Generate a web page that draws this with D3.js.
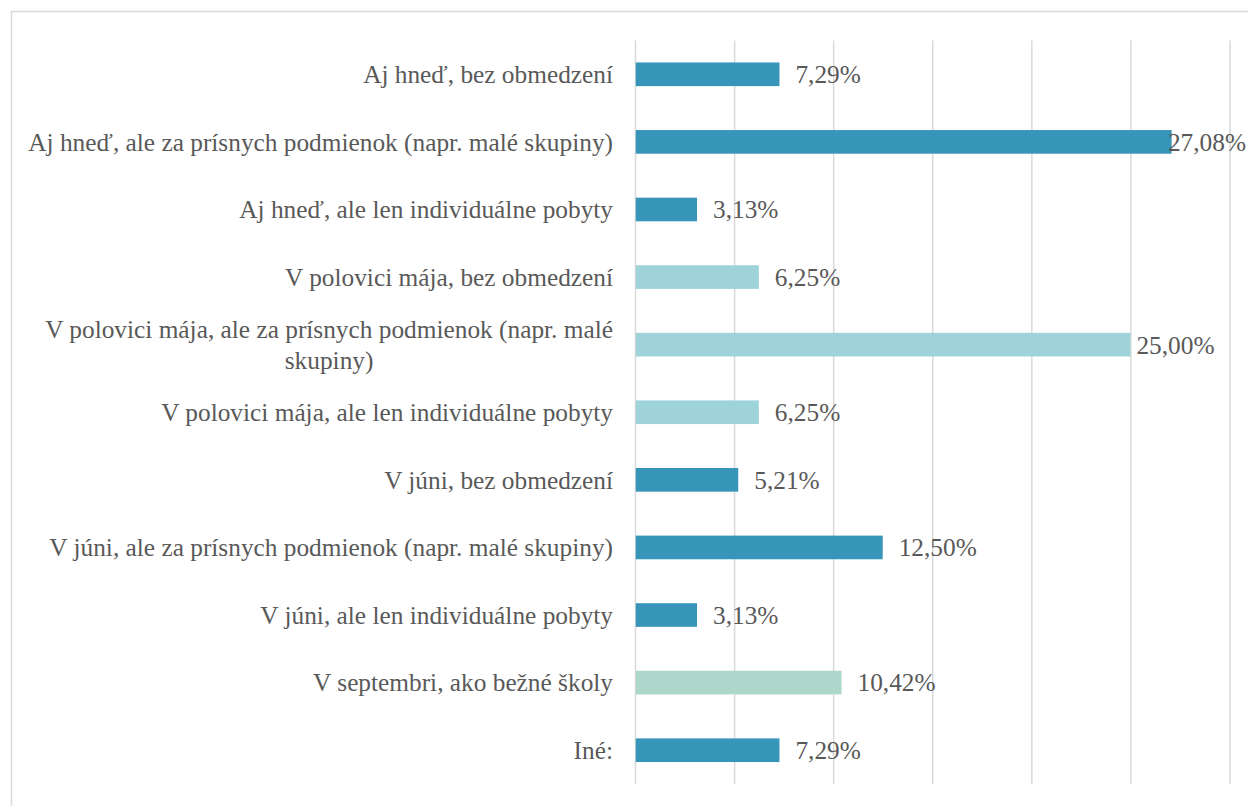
<!DOCTYPE html>
<html>
<head>
<meta charset="utf-8">
<script src="https://cdn.jsdelivr.net/npm/d3@7"></script>
<style>
  html, body { margin: 0; padding: 0; background: #fff; overflow: hidden; }
  svg { display: block; }
</style>
</head>
<body>
<svg id="chart" width="1248" height="806"></svg>
<script>
const categories = [
  "Aj hneď, bez obmedzení",
  "Aj hneď, ale za prísnych podmienok (napr. malé skupiny)",
  "Aj hneď, ale len individuálne pobyty",
  "V polovici mája, bez obmedzení",
  "V polovici mája, ale za prísnych podmienok (napr. malé skupiny)",
  "V polovici mája, ale len individuálne pobyty",
  "V júni, bez obmedzení",
  "V júni, ale za prísnych podmienok (napr. malé skupiny)",
  "V júni, ale len individuálne pobyty",
  "V septembri, ako bežné školy",
  "Iné:"
];
const values = [7.29, 27.08, 3.13, 6.25, 25.00, 6.25, 5.21, 12.50, 3.13, 10.42, 7.29];
const groups = ["a", "a", "a", "b", "b", "b", "a", "a", "a", "c", "a"];
const tickValues = [0, 5, 10, 15, 20, 25, 30];

const colorMap = { a: "#3795BA", b: "#9DD3D9", c: "#ADD7CA" };
const textColor = "#595959";
const fontFamily = "'Liberation Serif', 'Times New Roman', serif";

const svg = d3.select("#chart");

// chart border
svg.append("rect")
  .attr("x", 11.5).attr("y", 11.5)
  .attr("width", 1260).attr("height", 820)
  .attr("fill", "#fff").attr("stroke", "#D9D9D9").attr("stroke-width", 1.5);

const x = d3.scaleLinear().domain([0, 30]).range([635, 1229.5]);
const y = d3.scaleBand().domain(categories).range([40.5, 784]).paddingInner(0.65).paddingOuter(0.325);

// measure font size so longest single-line label matches target width
const probe = svg.append("text").attr("font-family", fontFamily).attr("font-size", 100)
  .text(categories[1]);
const w100 = probe.node().getComputedTextLength();
probe.remove();
const fontSize = Math.min(26, 100 * 585 / w100);

// gridlines via axis
const gridAxis = d3.axisBottom(x).tickValues(tickValues).tickSize(-(784 - 40.5)).tickFormat("");
const g = svg.append("g").attr("transform", "translate(0,784)").call(gridAxis);
g.select(".domain").remove();
g.selectAll(".tick line").attr("stroke", "#D9D9D9").attr("stroke-width", 1.5);

// bars
const data = categories.map((c, i) => ({ cat: c, value: values[i], group: groups[i] }));
svg.append("g").selectAll("rect").data(data).join("rect")
  .attr("x", x(0) + 0.75)
  .attr("y", d => y(d.cat))
  .attr("width", d => x(d.value) - x(0) - 0.75)
  .attr("height", y.bandwidth())
  .attr("fill", d => colorMap[d.group]);

// value labels
const fmt = v => v.toFixed(2).replace(".", ",") + "%";
const vl = svg.append("g").selectAll("text").data(data).join("text")
  .attr("y", d => y(d.cat) + y.bandwidth() / 2)
  .attr("dy", "0.35em")
  .attr("font-family", fontFamily)
  .attr("font-size", fontSize)
  .attr("fill", textColor)
  .text(d => fmt(d.value));
vl.attr("x", function(d) {
  const pref = x(d.value) + (d.value > 26 ? 1 : d.value > 20 ? 6 : 16);
  const w = this.getComputedTextLength();
  return Math.min(pref, 1246 - w);
});

// category labels with wrapping
const labelRight = 613;
const maxW = 592;
const labels = svg.append("g");
data.forEach(d => {
  const t = labels.append("text")
    .attr("font-family", fontFamily).attr("font-size", fontSize)
    .attr("fill", textColor).attr("text-anchor", "middle");
  const words = d.cat.split(" ");
  let lines = [], line = [];
  const tmp = t.append("tspan");
  words.forEach(wd => {
    line.push(wd);
    tmp.text(line.join(" "));
    if (tmp.node().getComputedTextLength() > maxW && line.length > 1) {
      line.pop();
      lines.push(line.join(" "));
      line = [wd];
    }
  });
  lines.push(line.join(" "));
  tmp.remove();
  const widths = lines.map(l => {
    const s = t.append("tspan").text(l);
    const w = s.node().getComputedTextLength();
    s.remove();
    return w;
  });
  const blockW = d3.max(widths);
  const cx = labelRight - blockW / 2;
  const lh = fontSize * 1.2;
  const cy = y(d.cat) + y.bandwidth() / 2 - (lines.length - 1) * lh / 2;
  lines.forEach((l, i) => {
    t.append("tspan").attr("x", cx).attr("y", cy + i * lh).attr("dy", "0.35em").text(l);
  });
});
</script>
</body>
</html>
